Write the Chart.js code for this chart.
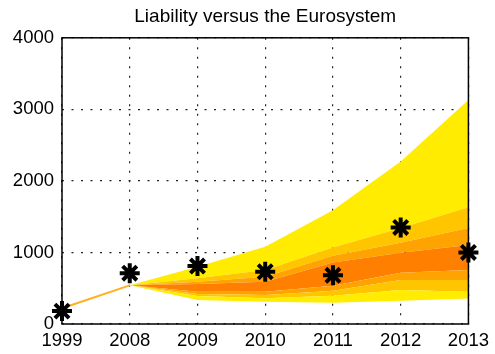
<!DOCTYPE html>
<html>
<head>
<meta charset="utf-8">
<script src="https://cdn.jsdelivr.net/npm/chart.js@4.4.1/dist/chart.umd.min.js"></script>
<style>
  html, body { margin: 0; padding: 0; background: #fff; }
  #wrap { width: 495px; height: 354px; }
</style>
</head>
<body>
<div id="wrap"><canvas id="myChart"></canvas></div>
<script>
const years = ['1999', '2008', '2009', '2010', '2011', '2012', '2013'];

// observed liability (asterisks)
const liability = [180, 710, 810, 730, 680, 1350, 1000];

// fan band edges, from the outer upper edge down to the outer lower edge
const fanTop    = [220, 540, 800, 1080, 1590, 2270, 3130];
const fanUp3    = [220, 540, 640, 755, 1070, 1340, 1630];
const fanUp2    = [220, 540, 590, 660, 955, 1135, 1340];
const fanUp1    = [220, 540, 560, 590, 860, 995, 1105];
const fanLow1   = [220, 540, 450, 450, 535, 715, 755];
const fanLow2   = [220, 540, 420, 405, 465, 615, 615];
const fanLow3   = [220, 540, 390, 360, 395, 475, 452];
const fanBottom = [220, 540, 336, 312, 298, 326, 357];

// faint seams inside the outer yellow band
const seams = [
  [220, 540, 680, 830, 1180, 1530, 1960],
  [220, 540, 720, 900, 1290, 1750, 2290],
  [220, 540, 760, 980, 1420, 1990, 2650],
];

const yTicks = [0, 1000, 2000, 3000, 4000];

const yellow = '#ffec00';
const lightOrange = '#ffc600';
const orange = '#ffa300';
const darkOrange = '#ff8000';
const tickFont = { family: 'Liberation Sans', size: 18.5 };

function band(data, color) {
  return {
    type: 'line',
    data: data,
    order: 1,
    fill: '-1',
    backgroundColor: color,
    borderWidth: 0,
    pointRadius: 0,
    tension: 0,
  };
}

// black box round the plot area
const boxPlugin = {
  id: 'box',
  afterDraw(chart) {
    const a = chart.chartArea;
    const c = chart.ctx;
    c.save();
    c.strokeStyle = '#000';
    c.lineWidth = 1.5;
    c.strokeRect(a.left, a.top, a.right - a.left, a.bottom - a.top);
    c.restore();
  }
};

const datasets = [
  { type: 'line', data: fanBottom, order: 1, fill: false, borderWidth: 0, pointRadius: 0 },
  band(fanLow3, yellow),
  band(fanLow2, lightOrange),
  band(fanLow1, orange),
  Object.assign(band(fanUp1, darkOrange), {
    borderWidth: 2,
    segment: { borderColor: ctx => ctx.p0DataIndex === 0 ? '#ffb020' : 'transparent' },
  }),
  band(fanUp2, orange),
  band(fanUp3, lightOrange),
  band(fanTop, yellow),
];
seams.forEach(s => datasets.push({
  type: 'line', data: s, order: 1, fill: false,
  borderColor: 'rgba(255,255,255,0.35)', borderWidth: 0.8, pointRadius: 0,
}));
datasets.push({
  type: 'line',
  data: liability,
  order: 0,
  showLine: false,
  pointStyle: 'star',
  pointRadius: 10,
  pointBorderWidth: 4,
  pointBorderColor: '#000',
  pointBackgroundColor: '#000',
});

let config = {
  type: 'line',
  data: { labels: years, datasets: datasets },
  options: {
    responsive: true,
    maintainAspectRatio: false,
    animation: false,
    layout: { padding: { top: 0, right: 25, bottom: 0, left: 0 } },
    plugins: {
      legend: { display: false },
      tooltip: { enabled: false },
      title: {
        display: true,
        fullSize: false, // centre over the plot, not the canvas
        text: 'Liability versus the Eurosystem',
        color: '#000',
        font: { family: 'Liberation Sans', size: 19, weight: 'normal' },
        padding: { top: 5, bottom: 10 },
      },
    },
    scales: {
      x: {
        offset: false,
        border: { display: false, dash: [2, 7.5] },
        afterFit: axis => { axis.height = 30; },
        grid: { color: '#222', lineWidth: 1.2, tickLength: 0 },
        ticks: { color: '#000', padding: 6, maxRotation: 0, font: tickFont },
      },
      y: {
        min: 0,
        max: 4000,
        border: { display: false, dash: [2, 7.5] },
        afterBuildTicks: axis => { axis.ticks = yTicks.map(v => ({ value: v })); },
        afterFit: axis => { axis.width = 62; },
        grid: { color: '#222', lineWidth: 1.2, tickLength: 0 },
        ticks: { color: '#000', padding: 8, font: tickFont, callback: v => String(v) },
      },
    },
  },
  plugins: [boxPlugin],
};

const ctx = document.getElementById('myChart').getContext('2d');
const myChart = new Chart(ctx, config);
</script>
</body>
</html>
